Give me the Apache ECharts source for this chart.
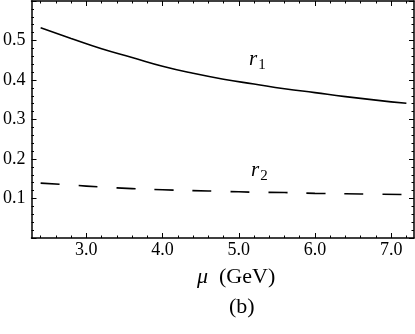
<!DOCTYPE html>
<html>
<head>
<meta charset="utf-8">
<script src="https://cdn.jsdelivr.net/npm/echarts@6/dist/echarts.min.js"></script>
<style>
  html, body { margin: 0; padding: 0; background: #fff; }
  #chart { width: 415px; height: 334px; }
</style>
</head>
<body>
<div id="chart"></div>
<script>
// mu (GeV) sample points and the two ratios
var muValues = [2.4, 2.8, 3.2, 3.6, 4.0, 4.4, 4.8, 5.2, 5.6, 6.0, 6.4, 6.8, 7.2];
var r1Values = [0.532, 0.505, 0.479, 0.457, 0.435, 0.417, 0.402, 0.390, 0.378, 0.368, 0.358, 0.349, 0.341];
var r2Values = [0.139, 0.134, 0.129, 0.125, 0.122, 0.120, 0.118, 0.116, 0.115, 0.113, 0.112, 0.111, 0.110];
var xMajorTicks = [3, 4, 5, 6, 7];
var xMinorTicks = [2.4, 2.6, 2.8, 3.2, 3.4, 3.6, 3.8, 4.2, 4.4, 4.6, 4.8, 5.2, 5.4, 5.6, 5.8, 6.2, 6.4, 6.6, 6.8, 7.2];

var serif = 'Liberation Serif';
var chart = echarts.init(document.getElementById('chart'));

function pairs(ys) {
  return muValues.map(function (x, i) { return [x, ys[i]]; });
}

function xAx(pos, ticks, len, withLine, withLabel) {
  return {
    type: 'value',
    position: pos,
    min: 2.28,
    max: 7.3,
    axisLine: { show: withLine, onZero: false, lineStyle: { color: '#000', width: 1.5 } },
    axisTick: { show: true, inside: true, length: len, customValues: ticks, lineStyle: { color: '#000', width: 1 } },
    axisLabel: {
      show: withLabel,
      customValues: ticks,
      formatter: function (v) { return v.toFixed(1); },
      color: '#000', fontFamily: serif, fontSize: 18, margin: 3
    },
    splitLine: { show: false }
  };
}

function yAx(pos, withLabel) {
  return {
    type: 'value',
    position: pos,
    min: 0,
    max: 0.6,
    interval: 0.1,
    axisLine: { show: true, onZero: false, lineStyle: { color: '#000', width: 1.5 } },
    axisTick: { show: true, inside: true, length: 5, lineStyle: { color: '#000', width: 1 } },
    minorTick: { show: true, splitNumber: 5, length: 2.5, lineStyle: { color: '#000', width: 1 } },
    axisLabel: {
      show: withLabel,
      showMinLabel: false,
      showMaxLabel: false,
      formatter: function (v) { return v.toFixed(1); },
      color: '#000', fontFamily: serif, fontSize: 18, margin: 6
    },
    splitLine: { show: false },
    minorSplitLine: { show: false }
  };
}

chart.setOption({
  animation: false,
  backgroundColor: '#fff',
  grid: { left: 31, right: 1, top: 1, bottom: 96, containLabel: false },
  xAxis: [
    xAx('bottom', xMajorTicks, 5, true, true),
    xAx('bottom', xMinorTicks, 2.5, false, false),
    xAx('top', xMajorTicks, 5, true, false),
    xAx('top', xMinorTicks, 2.5, false, false)
  ],
  yAxis: [yAx('left', true), yAx('right', false)],
  series: [
    {
      name: 'r1',
      type: 'line',
      smooth: true,
      showSymbol: false,
      data: pairs(r1Values),
      lineStyle: { color: '#000', width: 1.6 }
    },
    {
      name: 'r2',
      type: 'line',
      smooth: true,
      showSymbol: false,
      data: pairs(r2Values),
      lineStyle: { color: '#000', width: 1.6, type: [19, 19] }
    }
  ],
  graphic: [
    {
      type: 'text', left: 249, top: 49,
      style: {
        text: '{i|r}{s|1}',
        rich: {
          i: { fontFamily: serif, fontStyle: 'italic', fontSize: 21, fill: '#000' },
          s: { fontFamily: serif, fontSize: 15, fill: '#000', padding: [12, 0, 0, 1] }
        }
      }
    },
    {
      type: 'text', left: 251, top: 160,
      style: {
        text: '{i|r}{s|2}',
        rich: {
          i: { fontFamily: serif, fontStyle: 'italic', fontSize: 21, fill: '#000' },
          s: { fontFamily: serif, fontSize: 15, fill: '#000', padding: [12, 0, 0, 1] }
        }
      }
    },
    {
      type: 'text', left: 197, top: 266,
      style: {
        text: '{i|\u03bc}{n|  (GeV)}',
        rich: {
          i: { fontFamily: serif, fontStyle: 'italic', fontSize: 22, fill: '#000' },
          n: { fontFamily: serif, fontSize: 22, fill: '#000' }
        }
      }
    },
    {
      type: 'text', left: 229, top: 296,
      style: { text: '(b)', fontFamily: serif, fontSize: 22, fill: '#000' }
    }
  ]
});
</script>
</body>
</html>
